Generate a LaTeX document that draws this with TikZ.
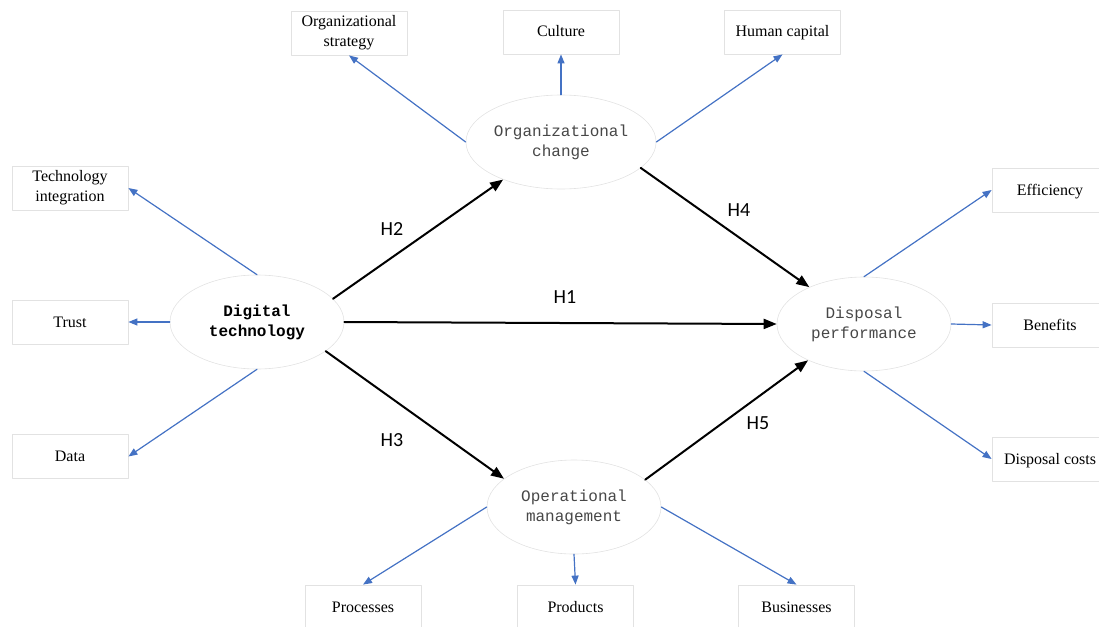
\documentclass[tikz,border=0pt]{standalone}
\usepackage{fontspec}
\usepackage{tikz}
\usetikzlibrary{arrows.meta,shapes.geometric}
\newfontfamily\boxfont{Liberation Serif}
\newfontfamily\ellfont{Liberation Mono}
\newfontfamily\hypfont{Carlito}
\definecolor{linkblue}{HTML}{4472C4}
\definecolor{edgegray}{HTML}{E2E2E2}
\tikzset{%
   indicator/.style = { draw=edgegray, line width=0.8pt, minimum width=116pt, minimum height=44pt, inner sep=0pt, align=center, font=\boxfont\fontsize{16}{20}\selectfont },
     oneline/.style = { text height=12pt, text depth=2pt },
   construct/.style = { ellipse, draw=edgegray, line width=0.6pt, minimum width=174pt, minimum height=94pt, inner sep=0pt, align=center, text=black!72, font=\ellfont\fontsize{16}{20}\selectfont },
     measure/.style = { draw=linkblue, line width=1.2pt, -{Triangle[length=9pt,width=7pt]} },
  hypothesis/.style = { draw=black, line width=2pt, -{Triangle[length=13pt,width=10pt]} },
      hlabel/.style = { font=\hypfont\fontsize{20}{24}\selectfont }
}

\begin{document}
\begin{tikzpicture}[line cap=round,line join=round,x=1pt,y=-1pt]
\useasboundingbox (0,0) rectangle (1099,626);
% constructs
\node[construct,text=black] (dt) at (257,322) {\bfseries Digital\\\bfseries technology};
\node[construct] (oc) at (561,142) {Organizational\\change};
\node[construct] (om) at (574,507) {Operational\\management};
\node[construct] (dp) at (864,324) {Disposal\\performance};
% indicators
\node[indicator] (ti) at (70,188) {Technology\\integration};
\node[indicator,oneline] (tr) at (70,322) {Trust};
\node[indicator,oneline] (da) at (70,456.5) {Data};
\node[indicator] (os) at (349,33) {Organizational\\strategy};
\node[indicator,oneline] (cu) at (561,32) {Culture};
\node[indicator,oneline] (hc) at (782.5,32) {Human capital};
\node[indicator,oneline] (pc) at (363,607) {Processes};
\node[indicator,oneline] (pd) at (575.5,607) {Products};
\node[indicator,oneline] (bu) at (796.5,607) {Businesses};
\node[indicator,oneline] (ef) at (1050,190) {Efficiency};
\node[indicator,oneline] (be) at (1050,325) {Benefits};
\node[indicator,oneline] (dc) at (1050,459) {Disposal costs};
% measurement arrows
\draw[measure] (dt.north) -- (ti.east);
\draw[measure] (dt.west) -- (tr.east);
\draw[measure] (dt.south) -- (da.east);
\draw[measure] (oc.west) -- (os.south);
\draw[measure] (oc.north) -- (cu.south);
\draw[measure] (oc.east) -- (hc.south);
\draw[measure] (om.west) -- (pc.north);
\draw[measure] (om.south) -- (pd.north);
\draw[measure] (om.east) -- (bu.north);
\draw[measure] (dp.north) -- (ef.west);
\draw[measure] (dp.east) -- (be.west);
\draw[measure] (dp.south) -- (dc.west);
% hypotheses
\draw[hypothesis] (dt.east) -- (dp.west);
\draw[hypothesis] (dt.17) -- (oc.213);
\draw[hypothesis] (dt.-23) -- (om.158);
\draw[hypothesis] (oc.-18) -- (dp.146);
\draw[hypothesis] (om.21) -- (dp.213);
\node[hlabel] (h1) at (565,297) {H1};
\node[hlabel] (h2) at (392,229) {H2};
\node[hlabel] (h3) at (392,440) {H3};
\node[hlabel] (h4) at (739,210) {H4};
\node[hlabel] (h5) at (758,423) {H5};
\end{tikzpicture}
\end{document}
